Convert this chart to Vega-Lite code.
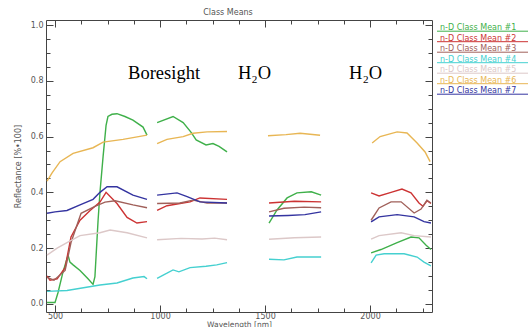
{
  "$schema": "https://vega.github.io/schema/vega-lite/v6.json",
  "width": 386,
  "height": 292,
  "autosize": {"type": "none"},
  "padding": {"left": 46, "top": 20, "right": 96, "bottom": 15},
  "background": "white",
  "title": {"text": "Class Means", "fontSize": 8, "font": "DejaVu Sans", "fontWeight": "normal", "color": "#555", "offset": 3, "dx": -11},
  "config": {
    "view": {"stroke": null},
    "axis": {"domainColor": "#444", "tickColor": "#444", "labelColor": "#555", "labelFont": "DejaVu Sans", "labelFontSize": 8, "titleFont": "DejaVu Sans", "titleFontSize": 8, "titleColor": "#555", "titleFontWeight": "normal", "grid": false},
    "legend": {"symbolType": "M-1,3.2H100"}
  },
  "datasets": {
    "spectra": [
      {"s":1,"g":1,"w":462,"v":0.005},{"s":1,"g":1,"w":500,"v":0.005},{"s":1,"g":1,"w":514,"v":0.04},{"s":1,"g":1,"w":538,"v":0.115},{"s":1,"g":1,"w":562,"v":0.175},{"s":1,"g":1,"w":571,"v":0.15},{"s":1,"g":1,"w":586,"v":0.14},{"s":1,"g":1,"w":619,"v":0.12},{"s":1,"g":1,"w":657,"v":0.09},{"s":1,"g":1,"w":681,"v":0.07},{"s":1,"g":1,"w":690,"v":0.098},{"s":1,"g":1,"w":705,"v":0.3},{"s":1,"g":1,"w":714,"v":0.4},{"s":1,"g":1,"w":729,"v":0.53},{"s":1,"g":1,"w":743,"v":0.64},{"s":1,"g":1,"w":752,"v":0.672},{"s":1,"g":1,"w":771,"v":0.68},{"s":1,"g":1,"w":795,"v":0.682},{"s":1,"g":1,"w":833,"v":0.672},{"s":1,"g":1,"w":871,"v":0.659},{"s":1,"g":1,"w":919,"v":0.634},{"s":1,"g":1,"w":938,"v":0.605},
      {"s":1,"g":2,"w":986,"v":0.65},{"s":1,"g":2,"w":1062,"v":0.672},{"s":1,"g":2,"w":1110,"v":0.65},{"s":1,"g":2,"w":1148,"v":0.615},{"s":1,"g":2,"w":1172,"v":0.588},{"s":1,"g":2,"w":1219,"v":0.57},{"s":1,"g":2,"w":1252,"v":0.575},{"s":1,"g":2,"w":1281,"v":0.565},{"s":1,"g":2,"w":1319,"v":0.545},
      {"s":1,"g":3,"w":1519,"v":0.29},{"s":1,"g":3,"w":1557,"v":0.337},{"s":1,"g":3,"w":1605,"v":0.38},{"s":1,"g":3,"w":1652,"v":0.398},{"s":1,"g":3,"w":1720,"v":0.402},{"s":1,"g":3,"w":1767,"v":0.39},
      {"s":1,"g":4,"w":2005,"v":0.183},{"s":1,"g":4,"w":2052,"v":0.195},{"s":1,"g":4,"w":2129,"v":0.22},{"s":1,"g":4,"w":2195,"v":0.24},{"s":1,"g":4,"w":2233,"v":0.237},{"s":1,"g":4,"w":2267,"v":0.21},{"s":1,"g":4,"w":2290,"v":0.195},

      {"s":2,"g":1,"w":462,"v":0.1},{"s":2,"g":1,"w":476,"v":0.085},{"s":2,"g":1,"w":510,"v":0.09},{"s":2,"g":1,"w":548,"v":0.13},{"s":2,"g":1,"w":576,"v":0.24},{"s":2,"g":1,"w":619,"v":0.3},{"s":2,"g":1,"w":667,"v":0.335},{"s":2,"g":1,"w":714,"v":0.365},{"s":2,"g":1,"w":743,"v":0.4},{"s":2,"g":1,"w":795,"v":0.36},{"s":2,"g":1,"w":843,"v":0.31},{"s":2,"g":1,"w":890,"v":0.29},{"s":2,"g":1,"w":938,"v":0.295},
      {"s":2,"g":2,"w":986,"v":0.335},{"s":2,"g":2,"w":1033,"v":0.352},{"s":2,"g":2,"w":1095,"v":0.36},{"s":2,"g":2,"w":1143,"v":0.366},{"s":2,"g":2,"w":1190,"v":0.38},{"s":2,"g":2,"w":1319,"v":0.375},
      {"s":2,"g":3,"w":1519,"v":0.362},{"s":2,"g":3,"w":1640,"v":0.368},{"s":2,"g":3,"w":1767,"v":0.366},
      {"s":2,"g":4,"w":2005,"v":0.398},{"s":2,"g":4,"w":2043,"v":0.387},{"s":2,"g":4,"w":2100,"v":0.4},{"s":2,"g":4,"w":2152,"v":0.412},{"s":2,"g":4,"w":2195,"v":0.398},{"s":2,"g":4,"w":2233,"v":0.362},{"s":2,"g":4,"w":2252,"v":0.35},{"s":2,"g":4,"w":2271,"v":0.37},{"s":2,"g":4,"w":2290,"v":0.36},

      {"s":3,"g":1,"w":462,"v":0.095},{"s":3,"g":1,"w":495,"v":0.085},{"s":3,"g":1,"w":548,"v":0.12},{"s":3,"g":1,"w":576,"v":0.22},{"s":3,"g":1,"w":624,"v":0.325},{"s":3,"g":1,"w":690,"v":0.35},{"s":3,"g":1,"w":738,"v":0.365},{"s":3,"g":1,"w":786,"v":0.37},{"s":3,"g":1,"w":871,"v":0.355},{"s":3,"g":1,"w":938,"v":0.345},
      {"s":3,"g":2,"w":986,"v":0.36},{"s":3,"g":2,"w":1095,"v":0.362},{"s":3,"g":2,"w":1157,"v":0.372},{"s":3,"g":2,"w":1224,"v":0.362},{"s":3,"g":2,"w":1319,"v":0.362},
      {"s":3,"g":3,"w":1519,"v":0.33},{"s":3,"g":3,"w":1590,"v":0.343},{"s":3,"g":3,"w":1686,"v":0.347},{"s":3,"g":3,"w":1767,"v":0.345},
      {"s":3,"g":4,"w":2005,"v":0.3},{"s":3,"g":4,"w":2043,"v":0.344},{"s":3,"g":4,"w":2100,"v":0.366},{"s":3,"g":4,"w":2148,"v":0.366},{"s":3,"g":4,"w":2210,"v":0.326},{"s":3,"g":4,"w":2243,"v":0.34},{"s":3,"g":4,"w":2271,"v":0.372},{"s":3,"g":4,"w":2290,"v":0.362},

      {"s":4,"g":1,"w":462,"v":0.045},{"s":4,"g":1,"w":557,"v":0.048},{"s":4,"g":1,"w":714,"v":0.068},{"s":4,"g":1,"w":795,"v":0.075},{"s":4,"g":1,"w":871,"v":0.093},{"s":4,"g":1,"w":924,"v":0.098},{"s":4,"g":1,"w":938,"v":0.09},
      {"s":4,"g":2,"w":986,"v":0.092},{"s":4,"g":2,"w":1033,"v":0.11},{"s":4,"g":2,"w":1062,"v":0.122},{"s":4,"g":2,"w":1090,"v":0.115},{"s":4,"g":2,"w":1143,"v":0.13},{"s":4,"g":2,"w":1219,"v":0.135},{"s":4,"g":2,"w":1270,"v":0.14},{"s":4,"g":2,"w":1319,"v":0.148},
      {"s":4,"g":3,"w":1519,"v":0.16},{"s":4,"g":3,"w":1590,"v":0.158},{"s":4,"g":3,"w":1652,"v":0.168},{"s":4,"g":3,"w":1767,"v":0.168},
      {"s":4,"g":4,"w":2005,"v":0.147},{"s":4,"g":4,"w":2029,"v":0.175},{"s":4,"g":4,"w":2067,"v":0.18},{"s":4,"g":4,"w":2162,"v":0.18},{"s":4,"g":4,"w":2224,"v":0.168},{"s":4,"g":4,"w":2257,"v":0.15},{"s":4,"g":4,"w":2290,"v":0.136},

      {"s":5,"g":1,"w":462,"v":0.175},{"s":5,"g":1,"w":510,"v":0.2},{"s":5,"g":1,"w":557,"v":0.22},{"s":5,"g":1,"w":619,"v":0.245},{"s":5,"g":1,"w":714,"v":0.255},{"s":5,"g":1,"w":762,"v":0.265},{"s":5,"g":1,"w":843,"v":0.255},{"s":5,"g":1,"w":938,"v":0.237},
      {"s":5,"g":2,"w":986,"v":0.23},{"s":5,"g":2,"w":1100,"v":0.235},{"s":5,"g":2,"w":1200,"v":0.233},{"s":5,"g":2,"w":1260,"v":0.236},{"s":5,"g":2,"w":1319,"v":0.23},
      {"s":5,"g":3,"w":1519,"v":0.232},{"s":5,"g":3,"w":1640,"v":0.237},{"s":5,"g":3,"w":1767,"v":0.24},
      {"s":5,"g":4,"w":2005,"v":0.232},{"s":5,"g":4,"w":2043,"v":0.245},{"s":5,"g":4,"w":2148,"v":0.255},{"s":5,"g":4,"w":2210,"v":0.245},{"s":5,"g":4,"w":2290,"v":0.24},

      {"s":6,"g":1,"w":462,"v":0.44},{"s":6,"g":1,"w":486,"v":0.47},{"s":6,"g":1,"w":524,"v":0.51},{"s":6,"g":1,"w":586,"v":0.54},{"s":6,"g":1,"w":681,"v":0.56},{"s":6,"g":1,"w":729,"v":0.58},{"s":6,"g":1,"w":824,"v":0.59},{"s":6,"g":1,"w":938,"v":0.605},
      {"s":6,"g":2,"w":986,"v":0.575},{"s":6,"g":2,"w":1033,"v":0.59},{"s":6,"g":2,"w":1110,"v":0.6},{"s":6,"g":2,"w":1157,"v":0.612},{"s":6,"g":2,"w":1224,"v":0.617},{"s":6,"g":2,"w":1319,"v":0.618},
      {"s":6,"g":3,"w":1514,"v":0.603},{"s":6,"g":3,"w":1600,"v":0.607},{"s":6,"g":3,"w":1667,"v":0.612},{"s":6,"g":3,"w":1762,"v":0.605},
      {"s":6,"g":4,"w":2010,"v":0.577},{"s":6,"g":4,"w":2048,"v":0.6},{"s":6,"g":4,"w":2129,"v":0.617},{"s":6,"g":4,"w":2176,"v":0.613},{"s":6,"g":4,"w":2224,"v":0.577},{"s":6,"g":4,"w":2262,"v":0.545},{"s":6,"g":4,"w":2286,"v":0.51},

      {"s":7,"g":1,"w":462,"v":0.325},{"s":7,"g":1,"w":500,"v":0.33},{"s":7,"g":1,"w":557,"v":0.335},{"s":7,"g":1,"w":619,"v":0.355},{"s":7,"g":1,"w":681,"v":0.375},{"s":7,"g":1,"w":714,"v":0.4},{"s":7,"g":1,"w":748,"v":0.42},{"s":7,"g":1,"w":795,"v":0.42},{"s":7,"g":1,"w":871,"v":0.39},{"s":7,"g":1,"w":938,"v":0.375},
      {"s":7,"g":2,"w":986,"v":0.39},{"s":7,"g":2,"w":1081,"v":0.398},{"s":7,"g":2,"w":1129,"v":0.385},{"s":7,"g":2,"w":1190,"v":0.366},{"s":7,"g":2,"w":1319,"v":0.362},
      {"s":7,"g":3,"w":1519,"v":0.315},{"s":7,"g":3,"w":1610,"v":0.317},{"s":7,"g":3,"w":1690,"v":0.32},{"s":7,"g":3,"w":1767,"v":0.33},
      {"s":7,"g":4,"w":2005,"v":0.294},{"s":7,"g":4,"w":2043,"v":0.312},{"s":7,"g":4,"w":2129,"v":0.32},{"s":7,"g":4,"w":2210,"v":0.312},{"s":7,"g":4,"w":2257,"v":0.295},{"s":7,"g":4,"w":2290,"v":0.29}
    ],
    "notes": [
      {"label": "Boresight", "w": 848, "v": 0.806},
      {"label": "H₂O", "w": 1371, "v": 0.806},
      {"label": "H₂O", "w": 1900, "v": 0.806}
    ]
  },
  "layer": [
    {
      "data": {"name": "spectra"},
      "mark": {"type": "line", "strokeWidth": 1.4, "clip": true},
      "encoding": {
        "x": {"field": "w", "type": "quantitative", "scale": {"domain": [457, 2295], "nice": false, "zero": false},
          "axis": {"orient": "bottom", "title": "Wavelength [nm]", "titlePadding": 0, "titleFontSize": 7.5,
            "values": [500,625,750,875,1000,1125,1250,1375,1500,1625,1750,1875,2000,2125,2250],
            "labelExpr": "datum.value % 500 === 0 ? datum.value : ''",
            "tickSize": {"condition": {"test": "datum.value % 500 === 0", "value": -7}, "value": -4},
            "labelPadding": 7, "labelFlush": false}},
        "y": {"field": "v", "type": "quantitative", "scale": {"domain": [-0.029, 1.018], "nice": false, "zero": false},
          "axis": {"orient": "left", "title": "Reflectance [%•100]", "titlePadding": 8,
            "values": [0,0.05,0.1,0.15,0.2,0.25,0.3,0.35,0.4,0.45,0.5,0.55,0.6,0.65,0.7,0.75,0.8,0.85,0.9,0.95,1.0],
            "labelExpr": "abs(datum.value*5 - round(datum.value*5)) < 0.001 ? format(datum.value, '.1f') : ''",
            "tickSize": {"condition": {"test": "abs(datum.value*5 - round(datum.value*5)) < 0.001", "value": -7}, "value": -4},
            "labelPadding": 10}},
        "color": {"field": "s", "type": "nominal",
          "scale": {"domain": [1,2,3,4,5,6,7], "range": ["#3fb04a", "#cc3333", "#a0605a", "#45d0d0", "#dcc8c8", "#e8b654", "#3434a0"]},
          "legend": {"orient": "none", "legendX": 388, "legendY": 4, "title": null,
            "labelExpr": "'n-D Class Mean #' + datum.label", "labelFont": "DejaVu Sans", "labelFontSize": 8,
            "symbolType": "M-1,3.2H100", "symbolSize": 4, "symbolStrokeWidth": 1, "symbolOffset": 0, "labelOffset": -2, "rowPadding": 0.5,
            "encode": {"labels": {"update": {"fill": {"scale": "color", "field": "value"}}}}}},
        "detail": {"field": "g", "type": "nominal"}
      }
    },
    {
      "data": {"name": "notes"},
      "mark": {"type": "text", "font": "Liberation Serif", "fontSize": 18.5, "align": "left", "baseline": "alphabetic", "color": "black"},
      "encoding": {
        "x": {"field": "w", "type": "quantitative",
          "axis": {"orient": "top", "title": null, "labels": false,
            "values": [500,625,750,875,1000,1125,1250,1375,1500,1625,1750,1875,2000,2125,2250],
            "tickSize": {"condition": {"test": "datum.value % 500 === 0", "value": -7}, "value": -4}}},
        "y": {"field": "v", "type": "quantitative",
          "axis": {"orient": "right", "title": null, "labels": false,
            "values": [0,0.05,0.1,0.15,0.2,0.25,0.3,0.35,0.4,0.45,0.5,0.55,0.6,0.65,0.7,0.75,0.8,0.85,0.9,0.95,1.0],
            "tickSize": {"condition": {"test": "abs(datum.value*5 - round(datum.value*5)) < 0.001", "value": -7}, "value": -4}}},
        "text": {"field": "label"}
      }
    }
  ]
}
